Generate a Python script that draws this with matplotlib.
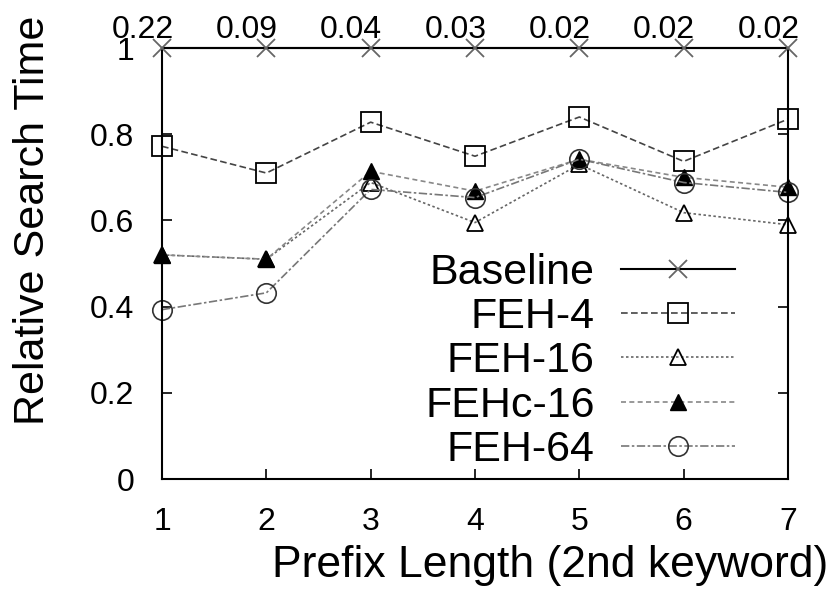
import matplotlib
matplotlib.use("Agg")
import matplotlib.pyplot as plt

plt.rcParams['font.family'] = ['Liberation Sans', 'DejaVu Sans']

# Data
prefix_len = [1, 2, 3, 4, 5, 6, 7]
baseline = [1.0, 1.0, 1.0, 1.0, 1.0, 1.0, 1.0]
feh4 = [0.772, 0.71, 0.828, 0.749, 0.84, 0.737, 0.835]
feh16 = [0.52, 0.51, 0.688, 0.595, 0.73, 0.618, 0.59]
fehc16 = [0.52, 0.51, 0.714, 0.668, 0.742, 0.70, 0.677]
feh64 = [0.393, 0.432, 0.672, 0.653, 0.742, 0.688, 0.665]
top_labels = ['0.22', '0.09', '0.04', '0.03', '0.02', '0.02', '0.02']

fig = plt.figure(figsize=(8.36, 6.16), dpi=100)
ax = fig.add_axes([0.1938, 0.2224, 0.7488, 0.6996])

ax.plot(prefix_len, baseline, '-', color='black', lw=1.5, marker='x', ms=13,
        mec='#666666', mew=1.3, label='Baseline', clip_on=False, zorder=5)
ax.plot(prefix_len, feh4, color='#444444', lw=1.2, ls=(0, (4, 2)), marker='s', ms=14,
        mfc='none', mec='black', mew=1.3, label='FEH-4', clip_on=False)
ax.plot(prefix_len, feh16, color='#666666', lw=1.2, ls=(0, (1.5, 1.5)), marker='^', ms=12,
        mfc='none', mec='black', mew=1.3, label='FEH-16', clip_on=False)
ax.plot(prefix_len, fehc16, color='#888888', lw=1.2, ls=(0, (3, 2)), marker='^', ms=12,
        mfc='black', mec='black', mew=1.0, label='FEHc-16', clip_on=False)
ax.plot(prefix_len, feh64, color='#777777', lw=1.2, ls=(0, (5, 1.5, 1.5, 1.5)), marker='o', ms=14,
        mfc='none', mec='#333333', mew=1.2, label='FEH-64', clip_on=False)

ax.set_xlim(1, 7)
ax.set_ylim(0, 1)
ax.set_xticks(prefix_len)
ax.set_yticks([0, 0.2, 0.4, 0.6, 0.8, 1])
ax.set_yticklabels(['0', '0.2', '0.4', '0.6', '0.8', '1'])
ax.tick_params(direction='in', length=7, width=1.2, labelsize=23, right=True)
ax.tick_params(axis='y', pad=20)
ax.tick_params(axis='x', pad=20)
for s in ax.spines.values():
    s.set_linewidth(1.5)

for x, lab in zip(prefix_len, top_labels):
    ax.annotate(lab, xy=(x, 1), xycoords=('data', 'axes fraction'),
                xytext=(-14, 7), textcoords='offset points',
                ha='center', va='baseline', fontsize=23)

ax.set_xlabel('Prefix Length (2nd keyword)', fontsize=32)
ax.xaxis.set_label_coords(0.62, -0.2)
ax.xaxis.label.set_va('center')
ax.set_ylabel('Relative Search Time', fontsize=31)
ax.yaxis.set_label_coords(-0.206, 0.6)
ax.yaxis.label.set_va('center')

ax.legend(loc='center right', bbox_to_anchor=(0.915, 0.273), frameon=False,
          markerfirst=False, fontsize=31, handlelength=2.65, handletextpad=0.6,
          labelspacing=0.1, borderpad=0, borderaxespad=0)

fig.savefig('out.png', dpi=100)
